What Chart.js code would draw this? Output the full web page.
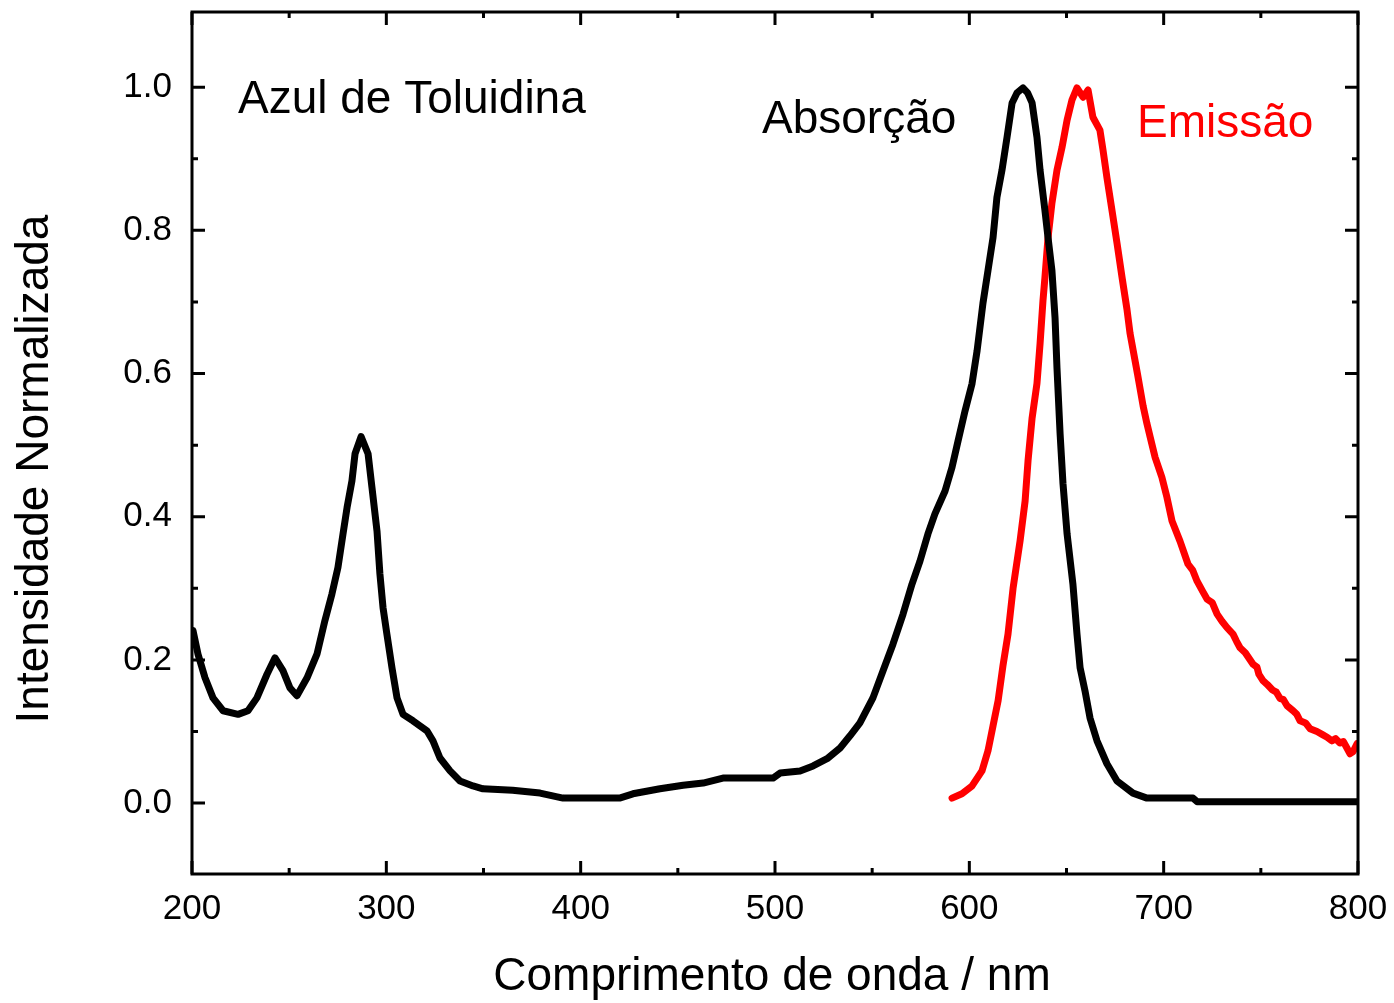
<!DOCTYPE html>
<html>
<head>
<meta charset="utf-8">
<title>Azul de Toluidina</title>
<script src="https://cdn.jsdelivr.net/npm/chart.js@4.4.1/dist/chart.umd.min.js"></script>
<style>
  html, body { margin: 0; padding: 0; background: #fff; }
  #wrap { width: 1394px; height: 1003px; }
</style>
</head>
<body>
<div id="wrap"><canvas id="chart" width="1394" height="1003"></canvas></div>
<script>
// espectro de absorção (preto)
const absWl = [200.5, 203.1, 206.7, 210.8, 216.0, 223.7, 228.8, 233.4, 238.6, 242.7, 246.8, 250.4, 254.0,
  259.2, 264.3, 268.4, 272.0, 275.1, 277.7, 279.8, 282.3, 283.9, 287.0, 290.6, 292.6, 295.2, 296.7, 298.3,
  300.3, 302.9, 305.5, 308.6, 313.7, 320.9, 324.0, 327.6, 332.8, 337.9, 344.6, 349.7, 365.0, 379.1, 390.9,
  399.7, 420.0, 426.9, 440.8, 452.7, 463.0, 473.2, 499.0, 502.6, 512.9, 519.6, 526.8, 533.5, 538.6, 543.7,
  550.4, 555.6, 560.7, 565.9, 570.5, 574.6, 578.7, 582.3, 587.5, 591.1, 594.2, 597.8, 601.4, 604.0, 607.0,
  609.6, 612.2, 614.2, 616.8, 619.4, 622.0, 624.5, 627.6, 630.0, 632.3, 634.8, 636.4, 638.9, 640.5, 642.5,
  644.1, 645.1, 646.7, 648.2, 650.3, 653.3, 655.4, 657.0, 659.5, 662.1, 665.7, 670.8, 676.0, 684.2, 691.4,
  715.1, 717.2, 800.0];
const absInt = [0.241, 0.208, 0.175, 0.147, 0.129, 0.124, 0.129, 0.147, 0.180, 0.203, 0.185, 0.161, 0.150,
  0.175, 0.208, 0.255, 0.292, 0.329, 0.376, 0.413, 0.450, 0.488, 0.512, 0.488, 0.441, 0.380, 0.320, 0.273,
  0.236, 0.189, 0.147, 0.124, 0.115, 0.101, 0.087, 0.063, 0.045, 0.031, 0.024, 0.020, 0.018, 0.014, 0.007,
  0.007, 0.007, 0.013, 0.020, 0.025, 0.028, 0.035, 0.035, 0.042, 0.045, 0.052, 0.062, 0.077, 0.094, 0.112,
  0.147, 0.185, 0.222, 0.264, 0.306, 0.338, 0.376, 0.404, 0.436, 0.469, 0.506, 0.548, 0.586, 0.632, 0.698,
  0.744, 0.790, 0.846, 0.884, 0.930, 0.978, 0.992, 0.999, 0.992, 0.978, 0.930, 0.884, 0.828, 0.790, 0.744,
  0.678, 0.608, 0.516, 0.446, 0.376, 0.306, 0.236, 0.189, 0.157, 0.119, 0.087, 0.055, 0.031, 0.014, 0.007,
  0.007, 0.002, 0.002];

// espectro de emissão (vermelho)
const emWl = [591.1, 596.2, 601.4, 606.5, 609.6, 612.2, 614.8, 617.3, 619.9, 622.5, 626.1, 628.7, 630.2,
  632.3, 634.8, 636.4, 637.9, 638.9, 640.5, 642.5, 645.1, 647.7, 650.3, 652.8, 655.4, 658.5, 661.1, 663.6,
  667.2, 668.8, 670.8, 673.4, 676.0, 678.6, 681.1, 682.7, 686.5, 689.4, 691.4, 693.0, 695.6, 699.1, 701.7,
  704.3, 708.4, 712.5, 715.0, 717.2, 720.0, 722.3, 725.0, 727.5, 730.0, 732.6, 735.7, 737.5, 739.3, 742.0,
  746.0, 748.0, 749.0, 751.1, 753.2, 756.0, 758.0, 759.9, 761.5, 763.5, 766.6, 768.5, 770.2, 773.0, 775.3,
  778.9, 781.5, 784.1, 786.5, 788.5, 790.7, 792.5, 794.3, 795.9, 797.5, 799.5];
const emInt = [0.007, 0.013, 0.024, 0.045, 0.073, 0.108, 0.143, 0.192, 0.236, 0.300, 0.366, 0.422, 0.478,
  0.538, 0.586, 0.642, 0.702, 0.734, 0.790, 0.838, 0.884, 0.916, 0.954, 0.982, 0.999, 0.986, 0.996, 0.958,
  0.940, 0.912, 0.874, 0.828, 0.782, 0.734, 0.690, 0.656, 0.600, 0.555, 0.530, 0.512, 0.483, 0.455, 0.427,
  0.394, 0.366, 0.334, 0.325, 0.310, 0.296, 0.285, 0.280, 0.264, 0.254, 0.245, 0.236, 0.226, 0.217, 0.210,
  0.194, 0.190, 0.180, 0.171, 0.166, 0.158, 0.155, 0.146, 0.145, 0.136, 0.129, 0.124, 0.115, 0.112, 0.104,
  0.100, 0.096, 0.092, 0.087, 0.090, 0.084, 0.086, 0.077, 0.069, 0.072, 0.083];

const xTicks = [200, 300, 400, 500, 600, 700, 800];
const xMinor = [250, 350, 450, 550, 650, 750];
const yTicks = [0.0, 0.2, 0.4, 0.6, 0.8, 1.0];
const yMinor = [0.1, 0.3, 0.5, 0.7, 0.9];

const FONT = '"Liberation Sans", Arial, sans-serif';

function pts(xs, ys) { return xs.map((x, i) => ({ x, y: ys[i] })); }

// moldura, ticks para dentro (espelhados) e textos
const framePlugin = {
  id: 'frame',
  afterDraw(chart) {
    const { ctx, chartArea: a, scales: { x, y } } = chart;
    ctx.save();
    ctx.strokeStyle = '#000';
    ctx.lineWidth = 3;
    ctx.strokeRect(a.left, a.top, a.right - a.left, a.bottom - a.top);
    const tick = (vals, len, lw) => {
      ctx.lineWidth = lw;
      ctx.beginPath();
      vals.forEach(v => {
        const px = x.getPixelForValue(v);
        ctx.moveTo(px, a.bottom); ctx.lineTo(px, a.bottom - len);
        ctx.moveTo(px, a.top); ctx.lineTo(px, a.top + len);
      });
      ctx.stroke();
    };
    const ytick = (vals, len, lw) => {
      ctx.lineWidth = lw;
      ctx.beginPath();
      vals.forEach(v => {
        const py = y.getPixelForValue(v);
        ctx.moveTo(a.left, py); ctx.lineTo(a.left + len, py);
        ctx.moveTo(a.right, py); ctx.lineTo(a.right - len, py);
      });
      ctx.stroke();
    };
    tick(xTicks, 13, 3); tick(xMinor, 6, 3);
    ytick(yTicks, 13, 3); ytick(yMinor, 6, 3);

    ctx.fillStyle = '#000';
    ctx.font = '46px ' + FONT;
    ctx.textBaseline = 'alphabetic';
    ctx.textAlign = 'left';
    ctx.fillText('Azul de Toluidina', 238, 113);
    ctx.fillText('Absorção', 762, 133);
    ctx.fillStyle = '#ff0000';
    ctx.fillText('Emissão', 1137, 137);

    ctx.fillStyle = '#000';
    ctx.textAlign = 'center';
    ctx.textBaseline = 'middle';
    ctx.fillText('Comprimento de onda / nm', 772, 977);
    ctx.translate(35, 469);
    ctx.rotate(-Math.PI / 2);
    ctx.fillText('Intensidade Normalizada', 0, 0);
    ctx.restore();
  }
};

new Chart(document.getElementById('chart'), {
  type: 'line',
  data: {
    datasets: [
      { label: 'Absorção', data: pts(absWl, absInt), borderColor: '#000', borderWidth: 7, pointRadius: 0, tension: 0, borderJoinStyle: 'round', borderCapStyle: 'round' },
      { label: 'Emissão', data: pts(emWl, emInt), borderColor: '#ff0000', borderWidth: 7, pointRadius: 0, tension: 0, borderJoinStyle: 'round', borderCapStyle: 'round' }
    ]
  },
  options: {
    responsive: false,
    animation: false,
    events: [],
    layout: { padding: { top: 12, right: 36, left: 0, bottom: 0 } },
    plugins: { legend: { display: false }, tooltip: { enabled: false } },
    scales: {
      x: {
        type: 'linear', min: 200, max: 800,
        afterBuildTicks: s => { s.ticks = xTicks.map(v => ({ value: v })); },
        afterFit: s => { s.height = 129; s.paddingLeft = 0; s.paddingRight = 0; },
        grid: { display: false, drawTicks: false },
        border: { display: false },
        ticks: { color: '#000', padding: 14, maxRotation: 0, font: { size: 35, family: FONT }, callback: v => String(v) }
      },
      y: {
        type: 'linear', min: -0.099, max: 1.105,
        afterBuildTicks: s => { s.ticks = yTicks.map(v => ({ value: v })); },
        afterFit: s => { s.width = 192; s.paddingTop = 0; s.paddingBottom = 0; },
        grid: { display: false, drawTicks: false },
        border: { display: false },
        ticks: { color: '#000', padding: 20, font: { size: 35, family: FONT }, callback: v => v.toFixed(1) }
      }
    }
  },
  plugins: [framePlugin]
});
</script>
</body>
</html>
